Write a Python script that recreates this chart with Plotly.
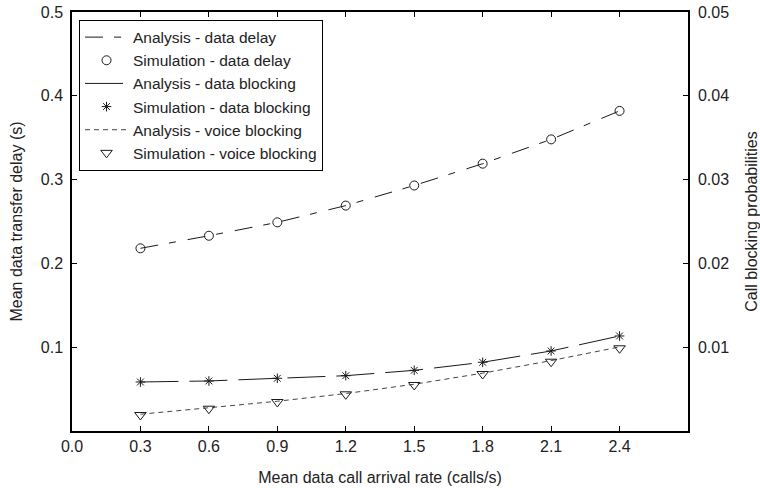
import plotly.graph_objects as go

# ---- data ----
rate = [0.3, 0.6, 0.9, 1.2, 1.5, 1.8, 2.1, 2.4]

delay_analysis = [0.218, 0.233, 0.249, 0.269, 0.293, 0.319, 0.348, 0.382]
delay_sim = [0.218, 0.233, 0.249, 0.269, 0.293, 0.319, 0.348, 0.382]

data_block_analysis = [0.00585, 0.00597, 0.00629, 0.0066, 0.00724, 0.0082, 0.00955, 0.01134]
data_block_sim = [0.00585, 0.00597, 0.00629, 0.0066, 0.00724, 0.0082, 0.00955, 0.01134]

voice_block_analysis = [0.0020, 0.00275, 0.00355, 0.00447, 0.00558, 0.0069, 0.0084, 0.01003]
voice_block_sim = [0.00191, 0.00266, 0.00346, 0.00438, 0.00549, 0.0068, 0.00827, 0.00987]

x_ticks = [0.0, 0.3, 0.6, 0.9, 1.2, 1.5, 1.8, 2.1, 2.4]
left_ticks = [0.1, 0.2, 0.3, 0.4, 0.5]
right_ticks = [0.01, 0.02, 0.03, 0.04, 0.05]

FONT = "Liberation Sans, Arial, Helvetica, sans-serif"
INK = "#1a1a1a"

fig = go.Figure()

fig.add_trace(go.Scatter(
    x=rate, y=delay_analysis, mode="lines", name="Analysis - data delay",
    line=dict(color=INK, width=1, dash="18px,11px,7px,12px"), yaxis="y"))
fig.add_trace(go.Scatter(
    x=rate, y=delay_sim, mode="markers", name="Simulation - data delay",
    marker=dict(symbol="circle-open", size=9, color=INK, line=dict(width=1)), yaxis="y"))
fig.add_trace(go.Scatter(
    x=rate, y=data_block_analysis, mode="lines", name="Analysis - data blocking",
    line=dict(color=INK, width=1, dash="38px,11px"), yaxis="y2"))
fig.add_trace(go.Scatter(
    x=rate, y=data_block_sim, mode="markers", name="Simulation - data blocking",
    marker=dict(symbol="asterisk-open", size=8, color=INK, line=dict(width=1, color=INK)), yaxis="y2"))
fig.add_trace(go.Scatter(
    x=rate, y=voice_block_analysis, mode="lines", name="Analysis - voice blocking",
    line=dict(color="#444", width=1, dash="5px,4px"), yaxis="y2"))
fig.add_trace(go.Scatter(
    x=rate, y=voice_block_sim, mode="markers", name="Simulation - voice blocking",
    marker=dict(symbol="triangle-down-open", size=10, color=INK, line=dict(width=1)), yaxis="y2"))

axis_common = dict(
    showline=True, linecolor="black", linewidth=1.5, ticks="inside", ticklen=5,
    tickcolor="black", tickwidth=1, showgrid=False, zeroline=False,
    automargin=False,
    tickfont=dict(family=FONT, size=16, color="#222"),
)

fig.update_layout(
    width=760, height=488,
    margin=dict(l=72, r=72, t=12, b=57),
    paper_bgcolor="white", plot_bgcolor="white",
    font=dict(family=FONT, size=16, color="#222"),
    showlegend=True,
    legend=dict(
        x=0.0114, y=0.982, xanchor="left", yanchor="top",
        bgcolor="white", bordercolor="black", borderwidth=1,
        font=dict(family=FONT, size=15.5, color="#222"),
        itemwidth=43, tracegroupgap=0,
    ),
    xaxis=dict(
        range=[0, 2.7], tickvals=x_ticks, tickformat=".1f", mirror="ticks",
        title=dict(text="Mean data call arrival rate (calls/s)", standoff=18,
                   font=dict(family=FONT, size=16, color="#222")),
        **axis_common,
    ),
    yaxis=dict(
        range=[0, 0.5], tickvals=left_ticks, tickformat=".1f",
        ticklabelstandoff=4,
        title=dict(text="Mean data transfer delay (s)", standoff=14,
                   font=dict(family=FONT, size=16, color="#222")),
        **axis_common,
    ),
    yaxis2=dict(
        range=[0, 0.05], tickvals=right_ticks, tickformat=".2f",
        overlaying="y", side="right", anchor="x",
        ticklabelstandoff=5,
        title=dict(text="Call blocking probabilities", standoff=22,
                   font=dict(family=FONT, size=16, color="#222")),
        **axis_common,
    ),
)

fig.write_html("out.html")
